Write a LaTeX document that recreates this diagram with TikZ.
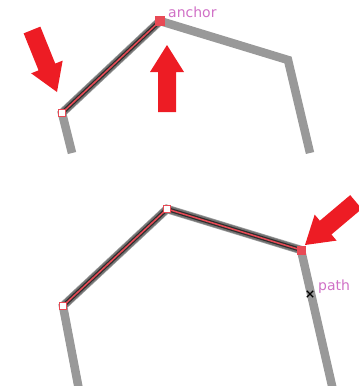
\documentclass[tikz,border=0pt]{standalone}
\usepackage{fontspec}
\newfontfamily\labelfont{DejaVu Sans}
\usetikzlibrary{calc,shapes.misc}
\definecolor{pathgray}{RGB}{153,153,153}
\definecolor{arrowred}{RGB}{237,28,36}
\definecolor{markred}{RGB}{232,74,85}
\definecolor{labelpink}{RGB}{208,112,198}
\tikzset{
 guide/.style={draw=pathgray, line width=8.5pt},
 shadowA/.style={draw=black, opacity=0.25, line width=7pt},
 shadowB/.style={draw=black, opacity=0.6, line width=4pt},
 redseg/.style={draw=markred, line width=1.5pt},
 opensq/.style={rectangle, draw=markred, fill=white, line width=1.4pt, minimum size=6.5pt, inner sep=0pt},
 fillsq/.style={rectangle, fill=markred, minimum size=10pt, inner sep=0pt},
 lbl/.style={text=labelpink, font=\labelfont\fontsize{14}{14}\selectfont, inner sep=0pt, anchor=base west},
 xmark/.style={cross out, draw=black, line width=1.3pt, minimum size=5pt, inner sep=0pt},
}
\newcommand\bigredarrow[2]{% #1 tail, #2 tip
 \coordinate (hb) at ($(#2)!27pt!(#1)$);
 \fill[arrowred] (#2) -- ($(hb)!17pt!90:(#2)$) -- ($(hb)!9pt!90:(#2)$)
   -- ($(#1)!9pt!90:(#2)$) -- ($(#1)!9pt!-90:(#2)$)
   -- ($(hb)!9pt!-90:(#2)$) -- ($(hb)!17pt!-90:(#2)$) -- cycle;
}
\begin{document}
\begin{tikzpicture}[x=1pt,y=-1pt]
\useasboundingbox (0,0) rectangle (359,386);
\clip (0,0) rectangle (359,386);
% ---- top panel ----
\coordinate (a0) at (72,153);
\coordinate (a1) at (62,113);
\coordinate (a2) at (160,21);
\coordinate (a3) at (288,60);
\coordinate (a4) at (310,153);
\draw[guide] (a0) -- (a1) -- (a2) -- (a3) -- (a4);
\draw[shadowA] (a1) -- (a2);
\draw[shadowB] (a1) -- (a2);
\draw[redseg] (a1) -- (a2);
\node[opensq] (s1) at (a1) {};
\node[fillsq] (s2) at (a2) {};
\node[lbl] (anchorlbl) at (168,17) {anchor};
% ---- bottom panel ----
\coordinate (b0) at (79,390);
\coordinate (b1) at (63,306);
\coordinate (b2) at (167,209);
\coordinate (b3) at (301,250);
\coordinate (b4) at (333,390);
\draw[guide] (b0) -- (b1) -- (b2) -- (b3) -- (b4);
\draw[shadowA] (b1) -- (b2) -- (b3);
\draw[shadowB] (b1) -- (b2) -- (b3);
\draw[redseg] (b1) -- (b2) -- (b3);
\node[opensq] (t1) at (b1) {};
\node[opensq] (t2) at (b2) {};
\node[fillsq, minimum size=9pt] (t3) at (b3) {};
\node[xmark] (x) at (310,294) {};
\node[lbl] (pathlbl) at (318,290) {path};
% ---- arrows ----
\coordinate (r1tail) at (32,30);
\coordinate (r1tip) at (57,92);
\bigredarrow{r1tail}{r1tip}
\coordinate (r2tail) at (167,112);
\coordinate (r2tip) at (167,45);
\bigredarrow{r2tail}{r2tip}
\coordinate (r3tail) at (356,202);
\coordinate (r3tip) at (305,245);
\bigredarrow{r3tail}{r3tip}
\end{tikzpicture}
\end{document}
